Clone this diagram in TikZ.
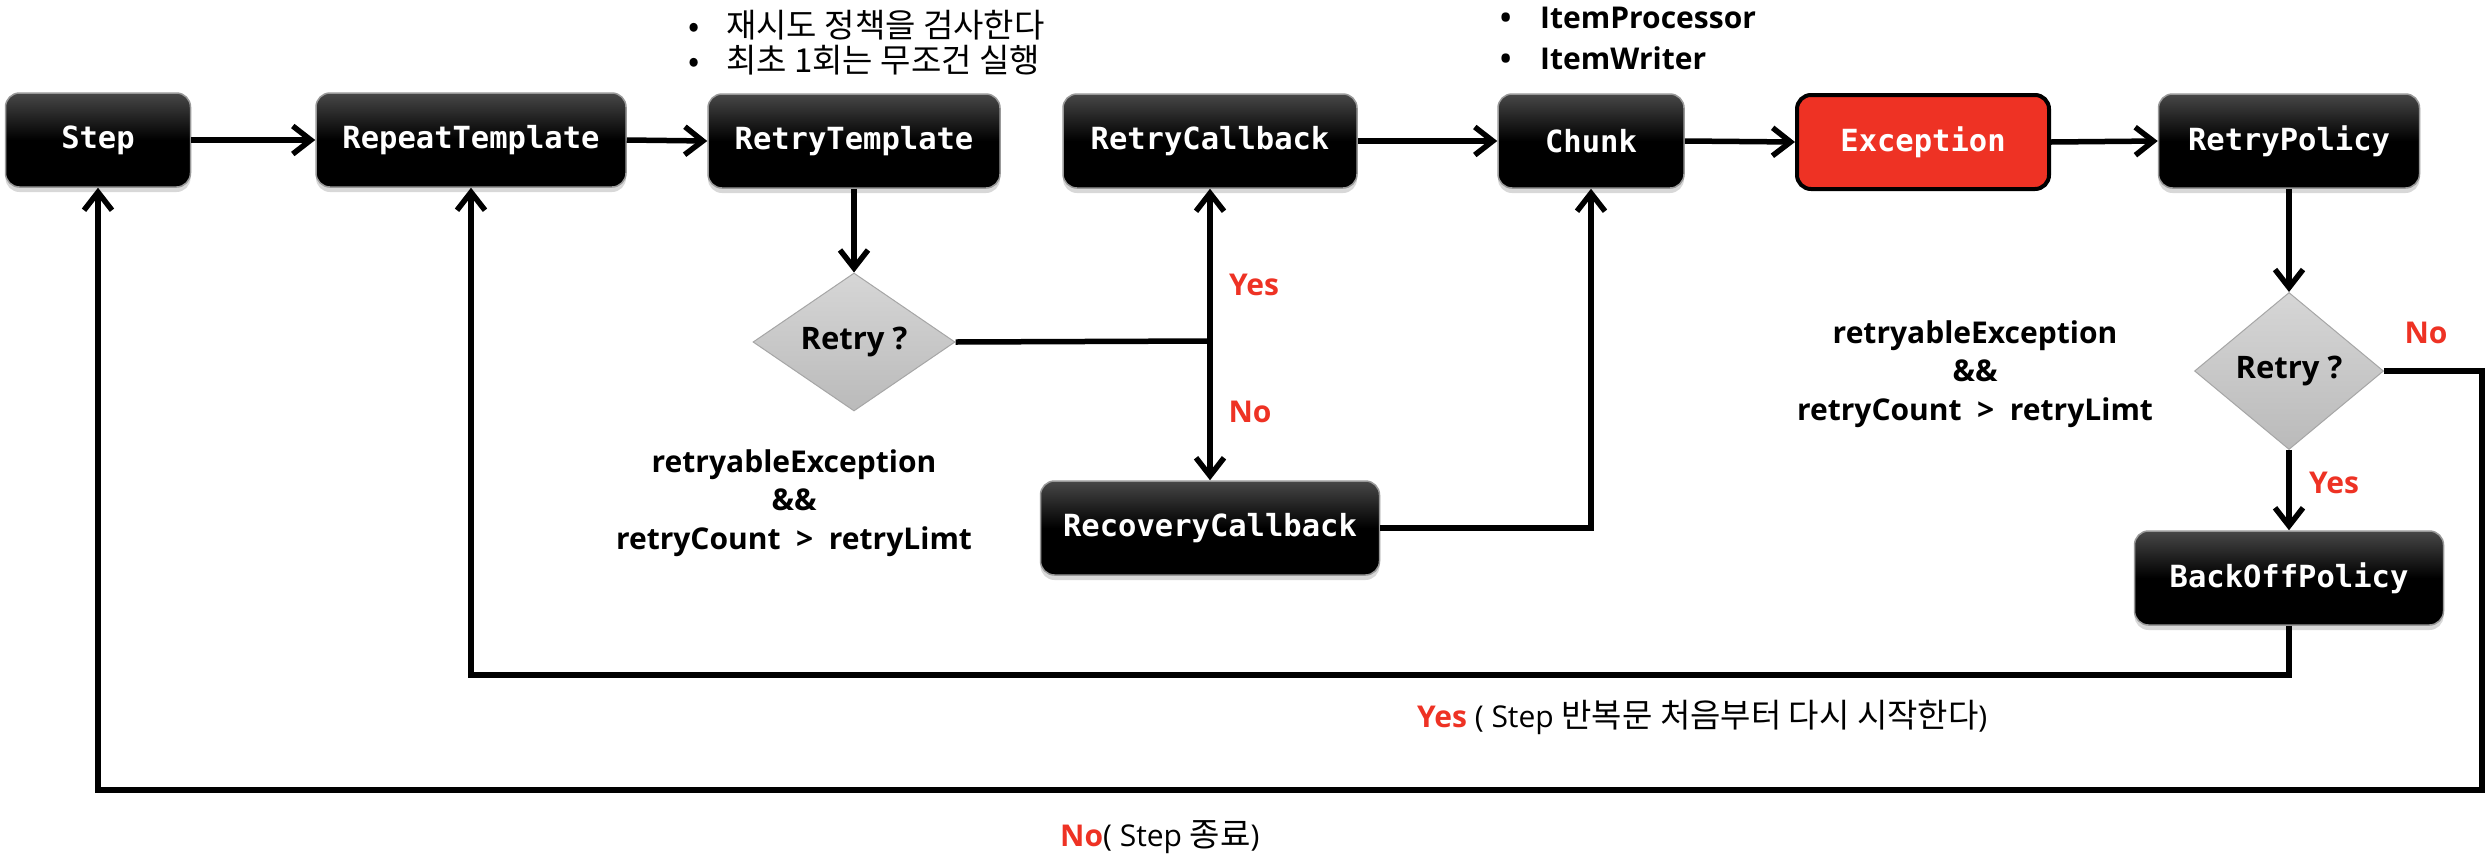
\documentclass[tikz,border=0pt]{standalone}
\usepackage{fontspec}
\setmainfont{Open Sans}
\newfontfamily\ko{Noto Sans CJK KR}
\newfontfamily\monof{DejaVu Sans Mono}
\usetikzlibrary{shapes.geometric,arrows.meta,shadows}
\definecolor{exred}{RGB}{238,50,36}
\definecolor{lblred}{RGB}{238,50,36}
\tikzset{
  blk/.style={rounded corners=14pt, draw=black!40, line width=1.5pt,
    top color=black!72, bottom color=black, middle color=black,
    text=white, font=\monof\bfseries\fontsize{30.5}{34}\selectfont,
    drop shadow={shadow xshift=0pt, shadow yshift=-5pt, opacity=0.3},
    inner sep=0pt, minimum height=94pt},
  exbox/.style={rounded corners=14pt, draw=black, line width=4pt, fill=exred,
    text=white, font=\monof\bfseries\fontsize{30.5}{34}\selectfont,
    inner sep=0pt, minimum height=94pt},
  dia/.style={diamond, draw=black!35, line width=1pt, top color=black!16,
    bottom color=black!27, inner sep=0pt,
    font=\bfseries\fontsize{31}{36}\selectfont},
  con/.style={line width=5.5pt, draw=black},
  arr/.style={con, -{Straight Barb[length=18pt,width=28pt]}},
  lbl/.style={text=lblred, font=\bfseries\fontsize{30}{36}\selectfont, inner sep=0pt},
  cond/.style={align=center, font=\bfseries\fontsize{30}{38.5}\selectfont, inner sep=0pt},
  note/.style={anchor=west, inner sep=0pt, font=\fontsize{30}{36}\selectfont},
  kofont/.style={font=\ko\fontsize{33}{38}\selectfont},
}
\newcommand{\kor}[1]{{\ko\fontsize{33}{38}\selectfont #1}}
\begin{document}
\begin{tikzpicture}[x=1pt,y=-1pt]
\useasboundingbox[fill=white] (0,0) rectangle (2488,860);

% boxes
\node[blk, minimum width=185pt] (step) at (98,140) {Step};
\node[blk, minimum width=310pt] (rep) at (471,140) {RepeatTemplate};
\node[blk, minimum width=292pt] (rtt) at (854,141) {RetryTemplate};
\node[blk, minimum width=294pt] (rcb) at (1210,141) {RetryCallback};
\node[blk, minimum width=186pt] (chunk) at (1591,141) {Chunk};
\node[exbox, minimum width=252pt] (exc) at (1923,142) {Exception};
\node[blk, minimum width=261pt] (rpol) at (2289,141) {RetryPolicy};
\node[blk, minimum width=339pt] (rec) at (1210,528) {RecoveryCallback};
\node[blk, minimum width=309pt] (bop) at (2289,578) {BackOffPolicy};

% diamonds
\node[dia, minimum width=202pt, minimum height=138pt] (d1) at (854,342) {Retry ?};
\node[dia, minimum width=189pt, minimum height=157pt] (d2) at (2289,371) {Retry ?};

% notes
\node[note, kofont] (n1) at (688,25) {\makebox[38pt][l]{•}재시도 정책을 검사한다};
\node[note, kofont] (n2) at (688,60) {\makebox[38pt][l]{•}최초 1회는 무조건 실행};
\node[note, font=\bfseries\fontsize{30}{36}\selectfont] (n3) at (1500,18) {\makebox[40pt][l]{•}ItemProcessor};
\node[note, font=\bfseries\fontsize{30}{36}\selectfont] (n4) at (1500,58) {\makebox[40pt][l]{•}ItemWriter};

\node[cond] (c1) at (794,503) {retryableException\\\&\&\\retryCount\ \ >\ \ retryLimt};
\node[cond] (c2) at (1975,374) {retryableException\\\&\&\\retryCount\ \ >\ \ retryLimt};

% coordinates
\coordinate (jn) at (1210,341);
\coordinate (cY) at (2289,675);
\coordinate (cR) at (2482,790);

% connectors
\draw[arr] (step.east) -- (rep.west);
\draw[arr] (rep.east) -- (rtt.west);
\draw[arr] (rcb.east) -- (chunk.west);
\draw[arr] (chunk.east) -- (exc.west);
\draw[arr] (exc.east) -- (rpol.west);
\draw[arr] (rtt.south) -- (d1.north);
\draw[con] (d1.east) -- (jn);
\draw[arr] (jn) -- (rcb.south);
\draw[arr] (jn) -- (rec.north);
\draw[arr] (rec.east) -| (chunk.south);
\draw[arr] (rpol.south) -- (d2.north);
\draw[arr] (d2.south) -- (bop.north);
\draw[arr] (bop.south) -- (cY) -| (rep.south);
\draw[arr] (d2.east) -| (cR) -| (step.south);

% labels
\node[lbl] (y1) at (1254,285) {Yes};
\node[lbl] (no1) at (1250,412) {No};
\node[lbl] (no2) at (2426,333) {No};
\node[lbl] (y2) at (2334,483) {Yes};
\node[note] (by) at (1417,717) {{\bfseries\color{lblred}Yes} ( Step \kor{반복문 처음부터 다시 시작한다})};
\node[note] (bn) at (1060,837) {{\bfseries\color{lblred}No}( Step \kor{종료})};
\end{tikzpicture}
\end{document}
